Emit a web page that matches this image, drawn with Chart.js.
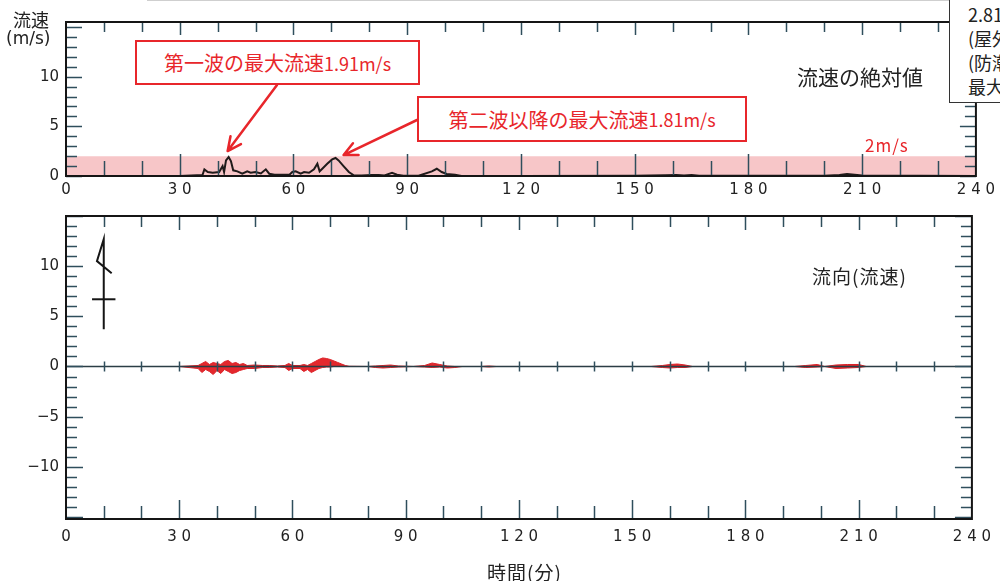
<!DOCTYPE html>
<html lang="ja">
<head>
<meta charset="utf-8">
<script src="https://cdn.jsdelivr.net/npm/chart.js@4.4.1/dist/chart.umd.min.js"></script>
<style>
    body { margin: 0; width: 1000px; height: 581px; overflow: hidden; background: #fff; position: relative;
           font-family: "Noto Sans CJK JP", sans-serif; color: #222; }
    canvas { position: absolute; left: 0; }
    .txt { position: absolute; white-space: nowrap; }
    .callout { position: absolute; box-sizing: border-box; border: 2px solid #e8262b; background: #fff;
               color: #e8262b; font-size: 20px; display: flex; align-items: center; justify-content: center; }
    .callout span { font-size: 18px; }
    .infobox { position: absolute; left: 949px; top: -2px; width: 120px; height: 105px; box-sizing: border-box;
               border: 1px solid #333; background: #fff; font-size: 18px; line-height: 24px; padding: 3px 0 0 18px; }
</style>
</head>
<body>

<div class="txt" style="left:147px;top:0;width:802px;height:1px;background:#cfcfcf"></div>

<canvas id="speedChart" width="1000" height="210" style="top:0"></canvas>
<canvas id="dirChart" width="1000" height="360" style="top:200px"></canvas>

<div class="txt" style="left:13px;top:6px;font-size:18px">流速</div>
<div class="txt" style="left:6px;top:28px;font-size:17px;font-family:'DejaVu Sans'">(m/s)</div>
<div class="txt" style="left:797px;top:61px;font-size:21px">流速の絶対値</div>
<div class="txt" style="left:865px;top:132px;font-size:17px;color:#e8262b;letter-spacing:1px">2m/s</div>
<div class="txt" style="left:812px;top:262px;font-size:19px;letter-spacing:1px">流向(流速)</div>
<div class="txt" style="left:487px;top:558px;font-size:19px;letter-spacing:1px">時間(分)</div>

<div class="callout" style="left:135px;top:40px;width:285px;height:45px">第一波の最大流速<span>1.91m/s</span></div>
<div class="callout" style="left:417px;top:96px;width:330px;height:46px">第二波以降の最大流速<span>1.81m/s</span></div>

<div class="infobox">2.81m/s<br>(屋外<br>(防潮堤<br>最大流速</div>

<script>
// time axis (minutes)
const timeTicks = [0, 30, 60, 90, 120, 150, 180, 210, 240];
const speedTicks = [0, 5, 10];
const dirTicks = [-10, -5, 0, 5, 10];
const threshold = 2;

// absolute flow speed (m/s)
const speedTime = [0, 30, 36, 36.5, 37.4, 38.7, 40.4, 41.3, 41.7, 42.2, 42.9, 43.5, 44.1, 45.2, 46.5, 47.8, 48.7, 50, 51.4, 52.7,
    53.6, 55, 57, 59, 59.7, 60.6, 61.9, 62.8, 64.1, 65.4, 66.3, 66.9, 67.6, 68.9, 70.2, 71.1, 71.9, 73.2, 74.6, 75.9,
    78, 80.6, 82.5, 84, 86, 87.3, 89, 93, 96.5, 97.8, 99.1, 100.4, 102.6, 104.3, 120, 150, 158, 161, 163, 165,
    167, 180, 200, 204, 206, 208, 210, 240];
const speedValue = [0, 0, 0.1, 0.67, 0.4, 0.33, 0.4, 1.0, 0.4, 1.57, 1.91, 1.5, 0.57, 0.47, 0.23, 0.47, 0.33, 0.4, 0.25, 0.67,
    0.23, 0.13, 0.12, 0.15, 0.4, 0.47, 0.23, 0.4, 0.33, 0.67, 1.23, 0.47, 0.73, 1.23, 1.67, 1.81, 1.57, 1.0, 0.4, 0.07,
    0.05, 0.1, 0.1, 0.05, 0.33, 0.13, 0.02, 0.02, 0.47, 0.73, 0.4, 0.2, 0.13, 0, 0, 0.02, 0.08, 0.1, 0.05, 0.1,
    0.02, 0.02, 0.03, 0.1, 0.2, 0.12, 0.05, 0];

// flow direction vectors, upper / lower envelope (m/s)
const flowTime = [30, 35, 36, 37, 38, 39, 40, 41, 42, 43, 44, 45, 46, 47, 48, 50, 52, 54, 56, 58,
    59, 60, 62, 63, 64, 65, 66, 67, 68, 69, 70, 71, 72, 73, 74, 75, 80, 82, 84, 86,
    88, 92, 95, 97, 99, 101, 103, 105, 110, 112, 114, 155, 158, 160, 162, 164, 166, 193, 196, 199,
    201, 204, 207, 210, 212, 240];
const flowUp = [0, 0.1, 0.3, 0.5, 0.2, 0.4, 0.3, 0.2, 0.5, 0.6, 0.3, 0.4, 0.2, 0.3, 0.1, 0.15, 0.1, 0.1, 0.05, 0.1,
    0.3, 0.1, 0.1, 0.2, 0.1, 0.3, 0.5, 0.7, 0.85, 0.8, 0.7, 0.55, 0.4, 0.25, 0.1, 0.02, 0, 0.05, 0.1, 0.15,
    0.05, 0, 0.1, 0.35, 0.2, 0.05, 0, 0, 0, 0.05, 0, 0, 0.1, 0.2, 0.25, 0.15, 0, 0, 0.1, 0.2,
    0, 0.15, 0.2, 0.2, 0, 0];
const flowDown = [0, -0.2, -0.6, -0.3, -0.5, -0.8, -0.4, -0.7, -0.3, -0.5, -0.7, -0.6, -0.4, -0.3, -0.2, -0.2, -0.1, -0.1, -0.05, -0.1,
    -0.4, -0.2, -0.2, -0.5, -0.3, -0.6, -0.4, -0.2, -0.1, -0.05, -0.05, 0, 0, 0, 0, 0, 0, -0.1, -0.15, -0.1,
    -0.05, 0, -0.05, -0.1, -0.05, -0.15, -0.1, 0, 0, -0.05, 0, 0, -0.1, -0.15, -0.1, -0.1, 0, 0, -0.1, -0.05,
    0, -0.2, -0.15, -0.1, 0, 0];

// scale key glyph (minutes, m/s)
const keyX = [10, 10, 8.2, 12.1];
const keyY = [3.7, 12.7, 10.5, 9.3];
const keyBarX = [6.9, 13.1];
const keyBarY = [6.7, 6.7];

const pts = (xs, ys) => xs.map((t, i) => ({ x: t, y: ys[i] }));
const spaced = v => String(v).split('').join(' ');
const minus = v => v < 0 ? '\u2212' + Math.abs(v) : String(v);

// peaks of first wave and later waves
function peakOf(from, to) {
    let best = 0;
    speedTime.forEach((t, i) => {
        if (t >= from && t < to && speedValue[i] > speedValue[best]) best = i;
    });
    return { x: speedTime[best], y: speedValue[best] };
}
const peak1 = peakOf(0, 55);
const peak2 = peakOf(55, 240);

// frame, inward tick marks, zero line
const frameTicks = {
    id: 'frameTicks',
    afterDatasetsDraw(chart, args, o) {
        const { ctx, chartArea: a, scales: { x, y } } = chart;
        const line = (x1, y1, x2, y2) => { ctx.beginPath(); ctx.moveTo(x1, y1); ctx.lineTo(x2, y2); ctx.stroke(); };
        ctx.save();
        if (o.zero) {
            const z = y.getPixelForValue(0);
            ctx.strokeStyle = '#2b3d45';
            ctx.lineWidth = 1.5;
            line(a.left, z, a.right, z);
        }
        ctx.strokeStyle = '#2f4e5c';
        ctx.lineWidth = 1.5;
        for (let t = 10; t < 240; t += 10) {
            const px = Math.round(x.getPixelForValue(t)) + 0.5;
            const major = t % 30 === 0;
            line(px, a.top, px, a.top + (major ? o.topMajor : o.topMinor));
            line(px, a.bottom, px, a.bottom - (major ? o.botMajor : o.botMinor));
            if (o.zero) {
                const z = y.getPixelForValue(0);
                line(px, z - 5, px, z + 5);
            }
        }
        for (let v = Math.ceil(y.min); v <= Math.floor(y.max); v++) {
            const py = Math.round(y.getPixelForValue(v)) + 0.5;
            const len = v % 5 === 0 ? o.yMajor : o.yMinor;
            line(a.left, py, a.left + len, py);
            line(a.right, py, a.right - len, py);
        }
        ctx.strokeStyle = '#151515';
        ctx.lineWidth = 2;
        ctx.strokeRect(a.left, a.top, a.right - a.left, a.bottom - a.top);
        ctx.restore();
    }
};

// arrows from the red callouts to the peaks
const callouts = {
    id: 'callouts',
    afterDraw(chart) {
        const { ctx, scales: { x, y } } = chart;
        const arrow = (x1, y1, x2, y2) => {
            const ang = Math.atan2(y2 - y1, x2 - x1);
            ctx.beginPath();
            ctx.moveTo(x1, y1);
            ctx.lineTo(x2, y2);
            ctx.moveTo(x2 - 15 * Math.cos(ang - 0.45), y2 - 15 * Math.sin(ang - 0.45));
            ctx.lineTo(x2, y2);
            ctx.lineTo(x2 - 15 * Math.cos(ang + 0.45), y2 - 15 * Math.sin(ang + 0.45));
            ctx.stroke();
        };
        ctx.save();
        ctx.strokeStyle = '#e8262b';
        ctx.lineWidth = 2.5;
        ctx.lineCap = 'round';
        ctx.lineJoin = 'round';
        arrow(277, 85, x.getPixelForValue(peak1.x) - 1, y.getPixelForValue(peak1.y) - 6);
        arrow(417, 120, x.getPixelForValue(peak2.x) + 8, y.getPixelForValue(peak2.y) - 3);
        ctx.restore();
    }
};

function xScale(height, pad) {
    return {
        type: 'linear', min: 0, max: 240,
        afterBuildTicks: s => { s.ticks = timeTicks.map(v => ({ value: v })); },
        afterFit: s => { s.height = height; },
        grid: { display: false, drawTicks: false },
        border: { display: false },
        ticks: { padding: pad, color: '#222', autoSkip: false, maxRotation: 0,
                 font: { family: 'DejaVu Sans', size: 15 }, callback: v => spaced(v) }
    };
}

function yScale(min, max, ticks) {
    return {
        min, max,
        afterBuildTicks: s => { s.ticks = ticks.map(v => ({ value: v })); },
        afterFit: s => { s.width = 66; },
        grid: { display: false, drawTicks: false },
        border: { display: false },
        ticks: { padding: 7, color: '#222', font: { family: 'DejaVu Sans', size: 15 }, callback: v => minus(v) }
    };
}

new Chart(document.getElementById('speedChart'), {
    type: 'line',
    data: {
        datasets: [{
            data: pts(speedTime, speedValue),
            borderColor: '#1f1a1a', borderWidth: 2, pointRadius: 0, tension: 0, fill: false
        }, {
            data: [{ x: 0, y: threshold }, { x: 240, y: threshold }],
            borderWidth: 0, pointRadius: 0, fill: 'origin', backgroundColor: '#f7c6c8'
        }]
    },
    options: {
        responsive: false,
        animation: false,
        layout: { padding: { top: 22, right: 20, left: 0, bottom: 0 } },
        plugins: {
            legend: { display: false },
            tooltip: { enabled: false },
            frameTicks: { topMajor: 13, topMinor: 10, botMajor: 22, botMinor: 15, yMajor: 16, yMinor: 11 }
        },
        scales: { x: xScale(34, 5), y: yScale(0, 15.5, speedTicks) }
    },
    plugins: [frameTicks, callouts]
});

new Chart(document.getElementById('dirChart'), {
    type: 'line',
    data: {
        datasets: [{
            data: pts(keyX, keyY),
            borderColor: '#151515', borderWidth: 2, pointRadius: 0, tension: 0, fill: false
        }, {
            data: pts(keyBarX, keyBarY),
            borderColor: '#151515', borderWidth: 2, pointRadius: 0, tension: 0, fill: false
        }, {
            data: pts(flowTime, flowUp),
            borderColor: '#dc2228', borderWidth: 1, pointRadius: 0, tension: 0,
            fill: 'origin', backgroundColor: '#e4282d'
        }, {
            data: pts(flowTime, flowDown),
            borderColor: '#dc2228', borderWidth: 1, pointRadius: 0, tension: 0,
            fill: 'origin', backgroundColor: '#e4282d'
        }]
    },
    options: {
        responsive: false,
        animation: false,
        layout: { padding: { top: 14, right: 20, left: 0, bottom: 0 } },
        plugins: {
            legend: { display: false },
            tooltip: { enabled: false },
            frameTicks: { topMajor: 14, topMinor: 11, botMajor: 19, botMinor: 13, yMajor: 17, yMinor: 11, zero: true }
        },
        scales: { x: xScale(41, 9), y: yScale(-15.2, 15.0, dirTicks) }
    },
    plugins: [frameTicks]
});
</script>
</body>
</html>
